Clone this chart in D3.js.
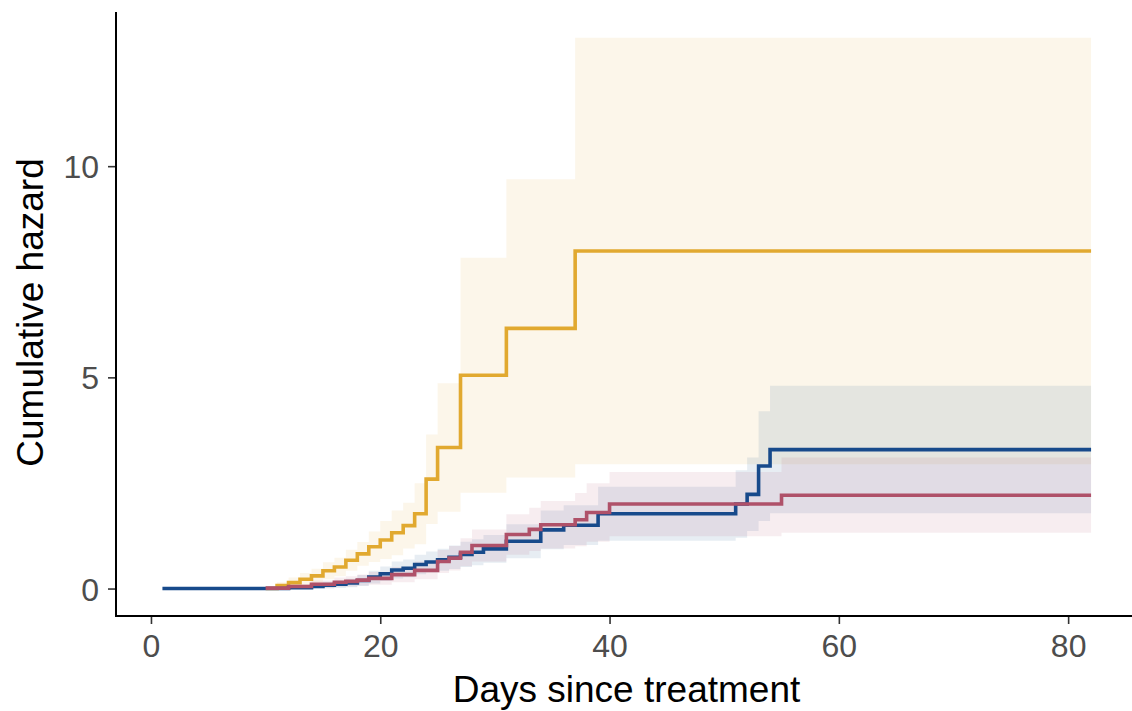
<!DOCTYPE html>
<html>
<head>
<meta charset="utf-8">
<script src="https://cdn.jsdelivr.net/npm/d3@7"></script>
<style>
  html, body { margin: 0; padding: 0; background: #fff; }
  svg { display: block; font-family: "Liberation Sans", Arial, Helvetica, sans-serif; }
</style>
</head>
<body>
<svg id="chart" width="1132" height="711"></svg>
<script>
// Cumulative hazard (Nelson–Aalen style step curves) with confidence bands, three groups.
const endDay = 82;

const goldDays  = [10, 11, 12, 13, 14, 15, 16, 17, 18, 19, 20, 21, 22, 23, 24, 25, 27, 31, 37];
const goldHaz   = [0, 0.07, 0.14, 0.22, 0.30, 0.42, 0.51, 0.67, 0.82, 0.99, 1.15, 1.32, 1.49, 1.77, 2.59, 3.34, 5.05, 6.16, 7.99];
const goldUpper = [0, 0.15, 0.26, 0.37, 0.47, 0.62, 0.73, 0.92, 1.10, 1.35, 1.60, 1.85, 2.03, 2.49, 3.65, 4.86, 7.83, 9.69, 13.04];
const goldLower = [0, 0, 0.02, 0.07, 0.13, 0.22, 0.29, 0.42, 0.54, 0.63, 0.70, 0.79, 0.95, 1.05, 1.53, 1.82, 2.27, 2.63, 2.94];

const blueDays  = [1, 12, 14, 15, 16, 17, 18, 19, 20, 21, 22, 23, 24, 25, 26, 27, 28, 29, 31, 34, 36, 39, 51, 52, 53, 54];
const blueHaz   = [0, 0.02, 0.05, 0.08, 0.10, 0.13, 0.19, 0.27, 0.35, 0.44, 0.48, 0.57, 0.63, 0.68, 0.74, 0.81, 0.86, 0.94, 1.12, 1.39, 1.50, 1.77, 2.00, 2.23, 2.90, 3.29];
const blueUpper = [0, 0.06, 0.11, 0.16, 0.19, 0.23, 0.32, 0.42, 0.52, 0.64, 0.69, 0.80, 0.88, 0.94, 1.02, 1.11, 1.17, 1.27, 1.52, 1.85, 1.97, 2.41, 2.80, 3.10, 4.20, 4.80];
const blueLower = [0, 0, 0, 0, 0.01, 0.03, 0.06, 0.12, 0.18, 0.24, 0.27, 0.34, 0.38, 0.42, 0.46, 0.51, 0.55, 0.61, 0.72, 0.93, 1.03, 1.13, 1.20, 1.36, 1.60, 1.78];

const roseDays  = [10, 12, 14, 16, 17, 18, 19, 21, 23, 25, 26, 27, 28, 31, 33, 34, 37, 38, 40, 55];
const roseHaz   = [0.01, 0.05, 0.10, 0.15, 0.17, 0.20, 0.24, 0.33, 0.43, 0.64, 0.72, 0.86, 1.02, 1.28, 1.40, 1.51, 1.63, 1.80, 2.00, 2.21];
const roseUpper = [0.05, 0.11, 0.19, 0.26, 0.29, 0.33, 0.39, 0.51, 0.64, 0.91, 1.01, 1.19, 1.40, 1.76, 1.91, 2.07, 2.26, 2.49, 2.76, 3.10];
const roseLower = [0, 0, 0.01, 0.04, 0.05, 0.07, 0.09, 0.15, 0.22, 0.37, 0.43, 0.53, 0.64, 0.80, 0.89, 0.95, 1.00, 1.11, 1.24, 1.32];

const xTicks = [0, 20, 40, 60, 80];
const yTicks = [0, 5, 10];

const groups = [
  { days: goldDays, haz: goldHaz, upper: goldUpper, lower: goldLower, color: "#E1A930" },
  { days: blueDays, haz: blueHaz, upper: blueUpper, lower: blueLower, color: "#174A8B" },
  { days: roseDays, haz: roseHaz, upper: roseUpper, lower: roseLower, color: "#AF5169" }
];

const svg = d3.select("#chart");
const panel = { left: 116, right: 1137.5, top: 12, bottom: 616 };

const x = d3.scaleLinear().domain([-3.05, 86.05]).range([panel.left, panel.right]);
const y = d3.scaleLinear().domain([-0.65, 13.65]).range([panel.bottom, panel.top]);

// Each series is extended to the last follow-up day with its final value.
function toRows(g) {
  const rows = g.days.map((d, i) => ({ t: d, h: g.haz[i], hi: g.upper[i], lo: g.lower[i] }));
  const last = rows[rows.length - 1];
  rows.push({ t: endDay, h: last.h, hi: last.hi, lo: last.lo });
  return rows;
}

const area = d3.area()
  .curve(d3.curveStepAfter)
  .x(r => x(r.t))
  .y0(r => y(r.lo))
  .y1(r => y(r.hi));

const line = d3.line()
  .curve(d3.curveStepAfter)
  .x(r => x(r.t))
  .y(r => y(r.h));

const bands = svg.append("g");
groups.forEach(g => {
  bands.append("path")
    .attr("d", area(toRows(g)))
    .attr("fill", g.color)
    .attr("fill-opacity", 0.1)
    .attr("stroke", "none");
});

const curves = svg.append("g");
groups.forEach(g => {
  curves.append("path")
    .attr("d", line(toRows(g)))
    .attr("fill", "none")
    .attr("stroke", g.color)
    .attr("stroke-width", 3.6)
    .attr("stroke-linejoin", "miter")
    .attr("stroke-linecap", "butt");
});

// Axes
const xAxis = svg.append("g")
  .attr("transform", `translate(0,${panel.bottom})`)
  .call(d3.axisBottom(x).tickValues(xTicks).tickSize(8).tickPadding(10).tickFormat(d3.format("d")));
const yAxis = svg.append("g")
  .attr("transform", `translate(${panel.left},0)`)
  .call(d3.axisLeft(y).tickValues(yTicks).tickSize(8).tickPadding(9).tickFormat(d3.format("d")));

[xAxis, yAxis].forEach(a => {
  a.select(".domain").remove();
  a.selectAll(".tick line").attr("stroke", "#333").attr("stroke-width", 1.6);
  a.selectAll(".tick text")
    .attr("fill", "#4D4D4D")
    .attr("font-size", 32)
    .attr("font-family", "'Liberation Sans', Arial, sans-serif");
});
xAxis.selectAll(".tick text").attr("dy", "0.71em");
yAxis.selectAll(".tick text").attr("dy", "0.36em");

// Axis lines
svg.append("line")
  .attr("x1", panel.left).attr("x2", panel.left)
  .attr("y1", panel.top).attr("y2", panel.bottom + 1)
  .attr("stroke", "#000").attr("stroke-width", 2);
svg.append("line")
  .attr("x1", panel.left - 1).attr("x2", panel.right)
  .attr("y1", panel.bottom).attr("y2", panel.bottom)
  .attr("stroke", "#000").attr("stroke-width", 2);

// Axis titles
svg.append("text")
  .attr("x", (453 + 800) / 2)
  .attr("y", 702)
  .attr("text-anchor", "middle")
  .attr("font-size", 37)
  .attr("fill", "#000")
  .text("Days since treatment");

svg.append("text")
  .attr("transform", `translate(43,${(158 + 467) / 2}) rotate(-90)`)
  .attr("text-anchor", "middle")
  .attr("font-size", 37)
  .attr("fill", "#000")
  .text("Cumulative hazard");
</script>
</body>
</html>
